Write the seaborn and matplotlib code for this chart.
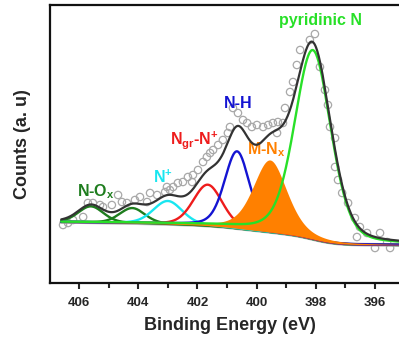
import numpy as np
import pandas as pd
import matplotlib
matplotlib.use("Agg")
import matplotlib.pyplot as plt
import seaborn as sns

# ---- data ----
# measured points: binding energy (eV) and counts (a.u.)
pts_energy = [406.54, 406.37, 406.20, 405.86, 405.70, 405.53, 405.29, 405.19, 404.89, 404.68,
              404.55, 404.38, 404.11, 403.94, 403.70, 403.60, 403.36, 403.09, 403.03, 402.93,
              402.82, 402.66, 402.49, 402.32, 402.18, 402.15, 401.98, 401.81, 401.68, 401.57,
              401.47, 401.30, 401.14, 400.97, 400.90, 400.80, 400.63, 400.46, 400.32, 400.16,
              399.99, 399.78, 399.61, 399.45, 399.28, 399.31, 399.11, 399.04, 398.87, 398.77,
              398.64, 398.53, 398.20, 398.03, 397.86, 397.69, 397.59, 397.52, 397.35, 397.35,
              397.25, 397.11, 396.91, 396.68, 396.51, 396.27, 396.61, 395.83, 396.00, 395.59,
              395.49]
pts_counts = [58, 60, 63, 66, 80, 80, 78, 76, 78, 88,
              81, 80, 83, 86, 81, 90, 88, 91, 96, 93,
              96, 100, 101, 106, 101, 108, 113, 121, 126, 130,
              133, 138, 143, 150, 156, 175, 170, 163, 160, 156,
              158, 156, 158, 160, 161, 150, 160, 175, 191, 201,
              218, 233, 243, 249, 216, 193, 178, 156, 145, 116,
              103, 90, 80, 65, 56, 50, 46, 50, 35, 41,
              35]

# fitted components
comp_names = ["N-Ox a", "N-Ox b", "N+", "Ngr-N+", "N-H", "M-Nx", "pyridinic N"]
comp_center = [405.6, 404.2, 403.0, 401.65, 400.66, 399.55, 398.1]
comp_height = [16, 15, 23, 41, 77, 72, 189]
comp_fwhm = [1.0, 1.0, 1.15, 1.15, 1.0, 1.35, 1.45]
comp_eta = [0.2, 0.2, 0.2, 0.2, 0.3, 0.4, 0.3]
comp_color = ["#1e7d1e", "#1e7d1e", "#19e6f0", "#ee1c1c", "#1414d2", "#ff8000", "#28e028"]

bg_high = 61   # background level on the high binding-energy side
bg_low = 38    # background level on the low binding-energy side

x_ticks = [406, 404, 402, 400, 398, 396]
x_minor = [405, 403, 401, 399, 397]

labels = ["pyridinic N", "N-H", r"N$_{\mathregular{gr}}$-N$^{\mathregular{+}}$",
          r"M-N$_{\mathregular{x}}$", r"N$^{\mathregular{+}}$", r"N-O$_{\mathregular{x}}$"]
label_x = [397.85, 400.63, 402.11, 399.68, 403.16, 405.43]
label_y = [263, 179, 143, 133, 106, 91]
label_color = ["#28e028", "#1414d2", "#ee1c1c", "#ff8000", "#19e6f0", "#1e7d1e"]

# ---- model curves ----
E = np.linspace(394.8, 406.6, 800)


def pvoigt(x, c, h, fwhm, eta):
    s = fwhm / (2 * np.sqrt(2 * np.log(2)))
    g = np.exp(-(x - c) ** 2 / (2 * s ** 2))
    l = 1.0 / (1.0 + ((x - c) / (fwhm / 2)) ** 2)
    return h * ((1 - eta) * g + eta * l)


comps = [pvoigt(E, c, h, w, e) for c, h, w, e in zip(comp_center, comp_height, comp_fwhm, comp_eta)]
total_peaks = np.sum(comps, axis=0)
cum = np.cumsum(total_peaks)
bg = bg_low + (bg_high - bg_low) * cum / cum[-1]
envelope = bg + total_peaks

# ---- plot ----
sns.set_style("ticks")
plt.rcParams["font.family"] = ["Liberation Sans", "DejaVu Sans"]
plt.rcParams["font.weight"] = "bold"
plt.rcParams["mathtext.fontset"] = "custom"
plt.rcParams["mathtext.rm"] = "Liberation Sans:bold"
plt.rcParams["mathtext.it"] = "Liberation Sans:bold"
plt.rcParams["mathtext.bf"] = "Liberation Sans:bold"

fig = plt.figure(figsize=(3.99, 3.37), dpi=100)
ax = fig.add_axes([50 / 399, (337 - 283) / 337, 360 / 399, 278 / 337])

sns.lineplot(x=E, y=bg, ax=ax, color="#b4b4b4", lw=2.6, zorder=2)

df_pts = pd.DataFrame({"energy": pts_energy, "counts": pts_counts})
sns.scatterplot(data=df_pts, x="energy", y="counts", ax=ax, marker="o", s=28,
                facecolor="none", edgecolor="#a8a8a8", linewidth=0.9, zorder=3)

for name, comp, col in zip(comp_names, comps, comp_color):
    if name == "M-Nx":
        ax.fill_between(E, bg, bg + comp, color=col, lw=0, zorder=4)
    else:
        sns.lineplot(x=E, y=bg + comp, ax=ax, color=col, lw=1.7, zorder=4)

sns.lineplot(x=E, y=envelope, ax=ax, color="#333333", lw=1.6, zorder=5)

for t, x, y, c in zip(labels, label_x, label_y, label_color):
    ax.text(x, y, t, color=c, fontsize=11.5, fontweight="bold", ha="center", va="center")

ax.set_xlim(406.98, 406.98 - 360 / 29.6)
ax.set_ylim(0, 278)
ax.set_xticks(x_ticks)
ax.set_xticks(x_minor, minor=True)
ax.set_xticklabels([str(t) for t in x_ticks], fontsize=9.5, fontweight="bold")
ax.set_yticks([])
ax.tick_params(axis="x", which="major", direction="out", length=4, width=1.5, pad=6)
ax.tick_params(axis="x", which="minor", direction="out", length=3.5, width=1.5)
for s in ax.spines.values():
    s.set_linewidth(1.6)
    s.set_color("#111111")
ax.set_xlabel("Binding Energy (eV)", fontsize=13, fontweight="bold", labelpad=6)
ax.set_ylabel("Counts (a. u)", fontsize=13, fontweight="bold", labelpad=14)

fig.savefig("out.png", dpi=100)
